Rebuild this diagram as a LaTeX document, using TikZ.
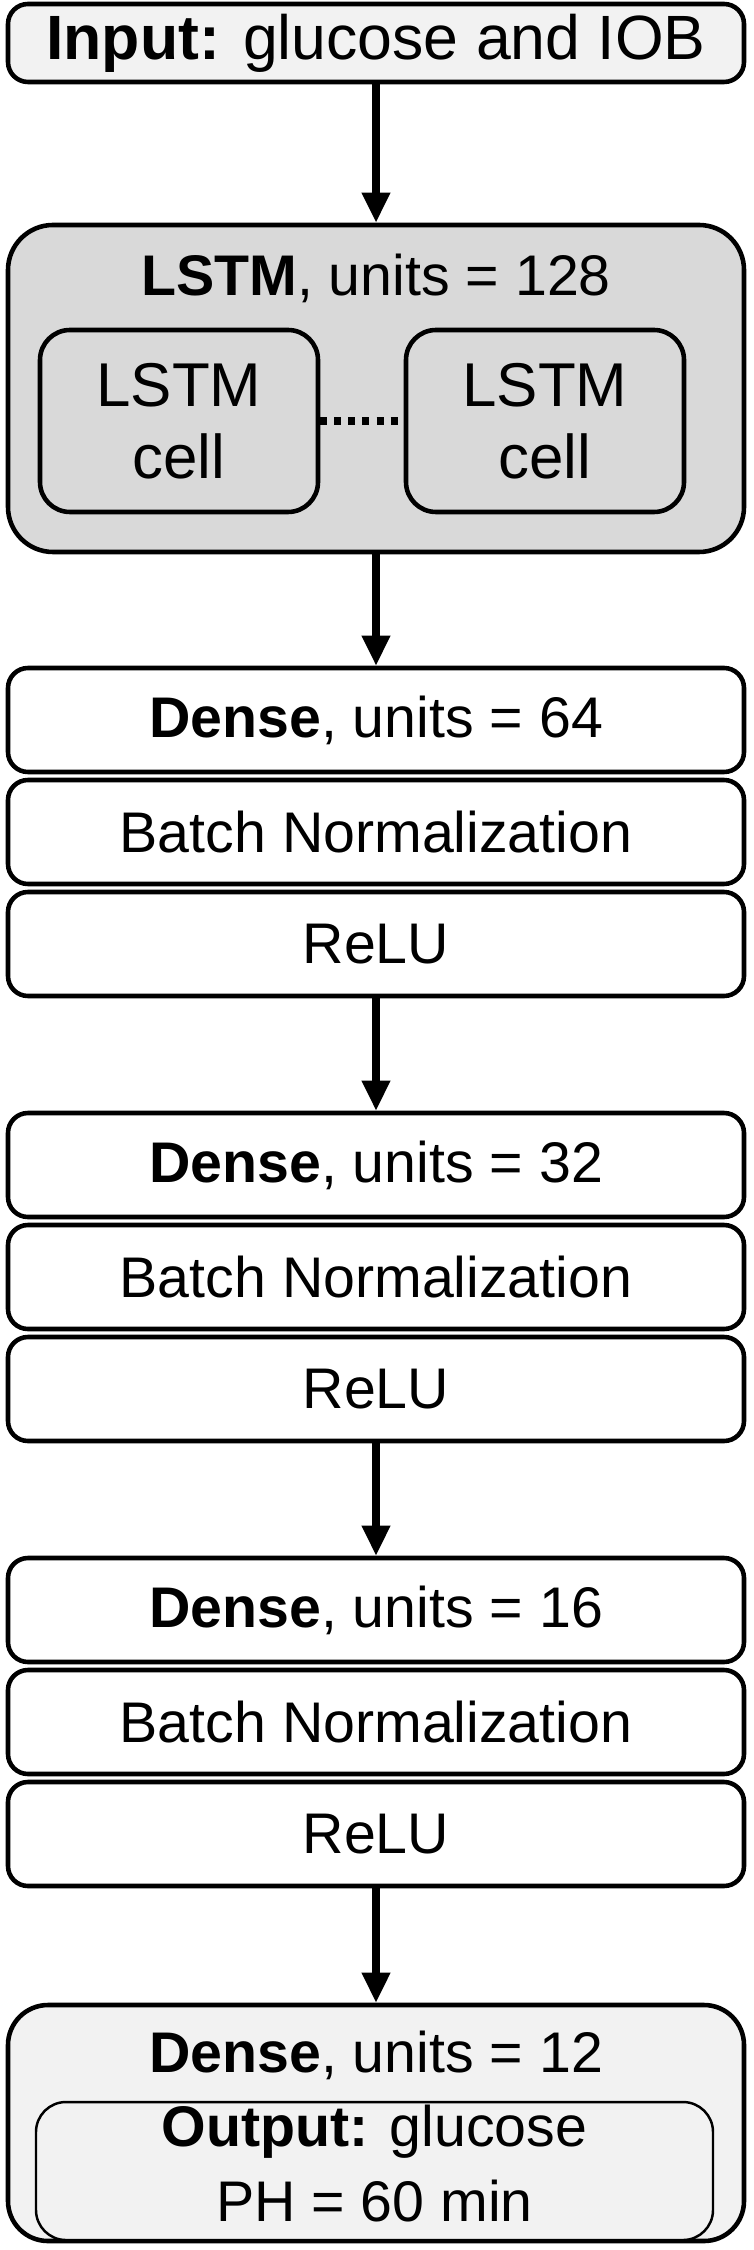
\documentclass[tikz,border=0pt]{standalone}
\usepackage{fontspec}
\setmainfont{Liberation Sans}
\usetikzlibrary{arrows.meta}
\definecolor{lightfill}{HTML}{F2F2F2}
\definecolor{midfill}{HTML}{D9D9D9}
\begin{document}
\begin{tikzpicture}[
  font=\fontsize{16.3}{19.3}\selectfont,
  layer/.style={draw,line width=1.3pt,rounded corners=0.2cm,fill=white,
    minimum width=7.36cm,minimum height=1.04cm,inner sep=0pt},
  cellbox/.style={layer,fill=midfill,rounded corners=0.3cm,minimum width=2.78cm,
    minimum height=1.82cm,align=center,font=\fontsize{17.6}{20.4}\selectfont},
  arr/.style={line width=2pt,-{Triangle[width=0.27cm,length=0.3cm]}}
]
\useasboundingbox (0,0) rectangle (7.53,-22.5);
\node[layer,fill=lightfill,minimum height=0.78cm,font=\fontsize{17.8}{21}\selectfont] (input) at (3.76,-0.43) {\textbf{Input:} glucose and IOB};
\node[layer,fill=midfill,rounded corners=0.45cm,minimum height=3.27cm] (lstm) at (3.76,-3.885) {};
\node (lstmtitle) at (3.76,-2.78) {\textbf{LSTM}, units = 128};
\node[cellbox] (cellA) at (1.79,-4.21) {LSTM\\cell};
\node[cellbox] (cellB) at (5.45,-4.21) {LSTM\\cell};
\draw[line width=2pt,dash pattern=on 2pt off 2pt] (cellA) -- (cellB);
\foreach \k/\u in {0/64,1/32,2/16}{
  \node[layer] (dense\u) at (3.76,-7.20-4.45*\k) {\textbf{Dense}, units = \u};
  \node[layer] (bn\u) at (3.76,-8.32-4.45*\k) {Batch Normalization};
  \node[layer] (relu\u) at (3.76,-9.44-4.45*\k) {ReLU};
}
\node[layer,fill=lightfill,rounded corners=0.4cm,minimum height=2.36cm] (dense12) at (3.76,-21.23) {};
\node (densetitle) at (3.76,-20.55) {\textbf{Dense}, units = 12};
\node[layer,fill=lightfill,line width=0.7pt,rounded corners=0.3cm,minimum width=6.77cm,minimum height=1.38cm,align=center,text depth=0.16cm,font=\fontsize{16.3}{21.4}\selectfont] (output) at (3.745,-21.71) {\textbf{Output:} glucose\\PH = 60 min};
\draw[arr] (input.south) -- (lstm.north);
\draw[arr] (lstm.south) -- (dense64.north);
\draw[arr] (relu64.south) -- (dense32.north);
\draw[arr] (relu32.south) -- (dense16.north);
\draw[arr] (relu16.south) -- (dense12.north);
\end{tikzpicture}
\end{document}
